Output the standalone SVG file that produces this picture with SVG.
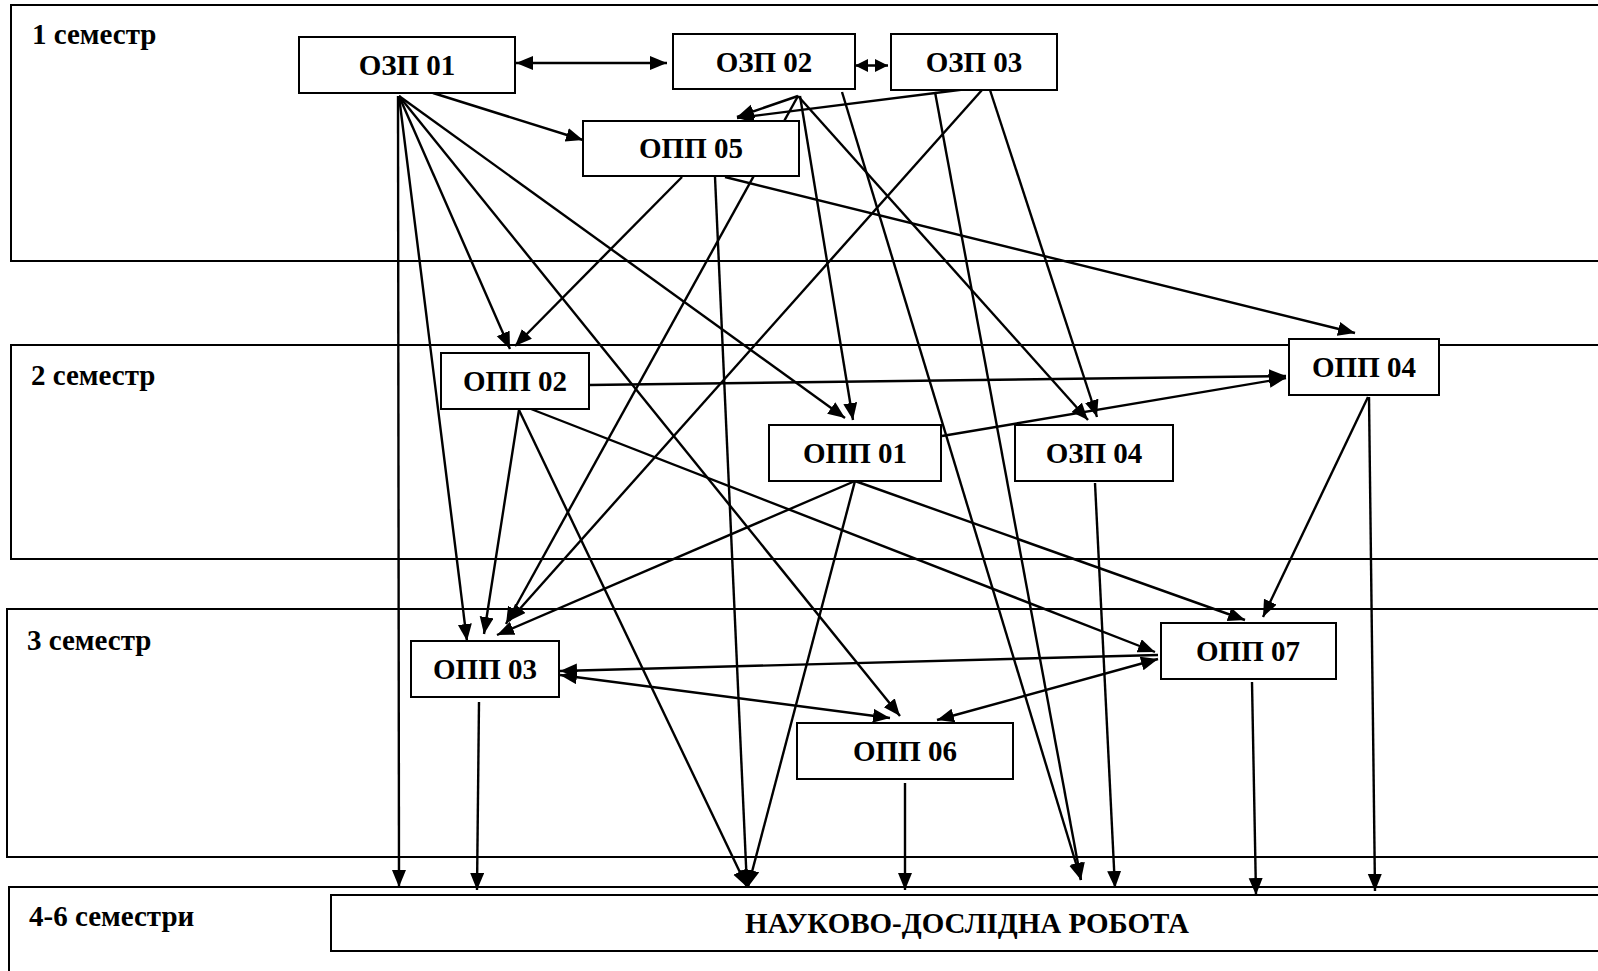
<svg xmlns="http://www.w3.org/2000/svg" width="1598" height="971" viewBox="0 0 1598 971">
<defs>
<marker id="ah" markerUnits="userSpaceOnUse" markerWidth="18" markerHeight="15" refX="17" refY="7" orient="auto-start-reverse">
<path d="M0,0 L17,7 L0,14 z" fill="#000"/>
</marker>
<marker id="ahs" markerUnits="userSpaceOnUse" markerWidth="14" markerHeight="14" refX="13" refY="6.5" orient="auto-start-reverse">
<path d="M0,0 L13,6.5 L0,13 z" fill="#000"/>
</marker>
<style>
.sem{fill:none;stroke:#000;stroke-width:2}
.node rect{fill:#fff;stroke:#000;stroke-width:2}
text{font-family:"Liberation Serif","Times New Roman",serif;font-weight:bold;font-size:29px;fill:#000}
.node text{text-anchor:middle}
#connectors line{stroke:#000;stroke-width:2.4;marker-end:url(#ah)}
#connectors line.both{marker-start:url(#ah)}
#connectors line.short{marker-start:url(#ahs);marker-end:url(#ahs)}
</style>
</defs>
<rect width="1598" height="971" fill="#fff"/>
<g id="semesters">
<rect class="sem" x="11" y="5" width="1600" height="256"/>
<rect class="sem" x="11" y="345" width="1600" height="214"/>
<rect class="sem" x="7" y="609" width="1604" height="248"/>
<rect class="sem" x="9" y="887" width="1602" height="120"/>
<text x="32" y="44">1 семестр</text>
<text x="31" y="385">2 семестр</text>
<text x="27" y="650">3 семестр</text>
<text x="29" y="926">4-6 семестри</text>
</g>
<g id="connectors">
<line class="both" x1="516" y1="63" x2="667" y2="63"/>
<line class="short" x1="855" y1="65.5" x2="888" y2="65.5"/>
<line x1="433" y1="93" x2="583" y2="140"/>
<line x1="398" y1="96" x2="399" y2="887"/>
<line x1="399" y1="96" x2="467" y2="641"/>
<line x1="399" y1="96" x2="510" y2="349"/>
<line x1="399" y1="96" x2="900" y2="716"/>
<line x1="399" y1="96" x2="845" y2="418"/>
<line x1="798" y1="96" x2="737" y2="117"/>
<line x1="798" y1="96" x2="506" y2="624"/>
<line x1="800" y1="96" x2="853" y2="420"/>
<line x1="798" y1="96" x2="1088" y2="420"/>
<line x1="842" y1="92" x2="1081" y2="880"/>
<line x1="967" y1="89" x2="737" y2="118"/>
<line x1="982" y1="90" x2="509" y2="621"/>
<line x1="990" y1="90" x2="1097" y2="417"/>
<line x1="935" y1="92" x2="1081" y2="880"/>
<line x1="682" y1="177" x2="515" y2="346"/>
<line x1="715" y1="177" x2="747" y2="887"/>
<line x1="725" y1="177" x2="1355" y2="333"/>
<line x1="589" y1="385" x2="1286" y2="376"/>
<line x1="519" y1="410" x2="484" y2="634"/>
<line x1="519" y1="410" x2="747" y2="887"/>
<line x1="531" y1="409" x2="1155" y2="652"/>
<line x1="942" y1="436" x2="1286" y2="378"/>
<line x1="855" y1="481" x2="497" y2="635"/>
<line x1="855" y1="481" x2="748" y2="887"/>
<line x1="855" y1="481" x2="1245" y2="620"/>
<line x1="1095" y1="483" x2="1115" y2="888"/>
<line x1="1368" y1="397" x2="1263" y2="617"/>
<line x1="1369" y1="397" x2="1375" y2="891"/>
<line x1="1158" y1="655" x2="560" y2="671"/>
<line class="both" x1="560" y1="675" x2="890" y2="718"/>
<line class="both" x1="937" y1="720" x2="1158" y2="659"/>
<line x1="479" y1="702" x2="477" y2="890"/>
<line x1="905" y1="783" x2="905" y2="890"/>
<line x1="1252" y1="682" x2="1256" y2="895"/>
</g>
<g id="ozp01" class="node"><rect x="299" y="37" width="216" height="56"/><text x="407" y="75">ОЗП 01</text></g>
<g id="ozp02" class="node"><rect x="673" y="34" width="182" height="55"/><text x="764" y="72">ОЗП 02</text></g>
<g id="ozp03" class="node"><rect x="891" y="34" width="166" height="56"/><text x="974" y="72">ОЗП 03</text></g>
<g id="opp05" class="node"><rect x="583" y="121" width="216" height="55"/><text x="691" y="158">ОПП 05</text></g>
<g id="opp02" class="node"><rect x="441" y="353" width="148" height="56"/><text x="515" y="391">ОПП 02</text></g>
<g id="opp04" class="node"><rect x="1289" y="339" width="150" height="56"/><text x="1364" y="377">ОПП 04</text></g>
<g id="opp01" class="node"><rect x="769" y="425" width="172" height="56"/><text x="855" y="463">ОПП 01</text></g>
<g id="ozp04" class="node"><rect x="1015" y="425" width="158" height="56"/><text x="1094" y="463">ОЗП 04</text></g>
<g id="opp03" class="node"><rect x="411" y="641" width="148" height="56"/><text x="485" y="679">ОПП 03</text></g>
<g id="opp07" class="node"><rect x="1161" y="623" width="175" height="56"/><text x="1248" y="661">ОПП 07</text></g>
<g id="opp06" class="node"><rect x="797" y="723" width="216" height="56"/><text x="905" y="761">ОПП 06</text></g>
<g id="ndr" class="node"><rect x="331" y="895" width="1272" height="56"/><text x="967" y="933">НАУКОВО-ДОСЛІДНА РОБОТА</text></g>
</svg>
